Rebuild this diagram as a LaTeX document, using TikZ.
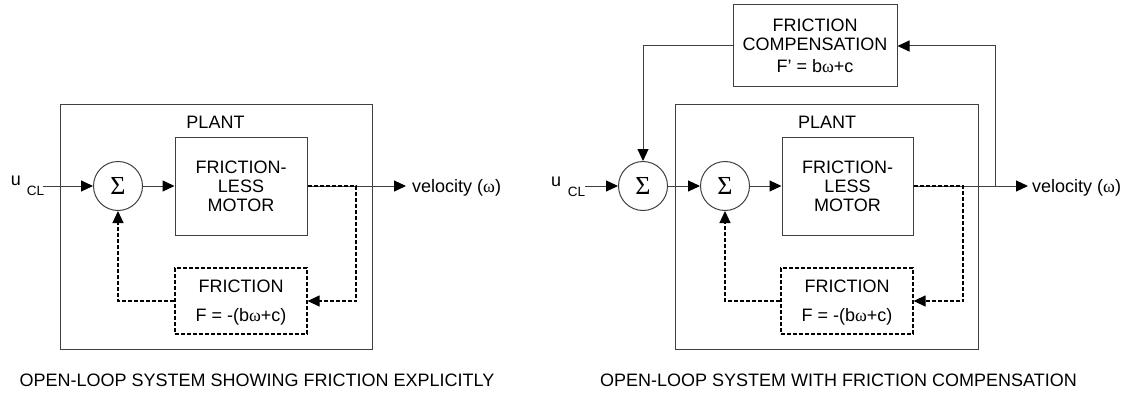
\documentclass[tikz,border=0pt]{standalone}
\usepackage{fontspec}
\setmainfont{Liberation Sans}
\newfontfamily\seriffont{Liberation Serif}
\usetikzlibrary{arrows.meta}
\definecolor{ln}{gray}{0.25}
\newcommand{\om}{{\seriffont ω}}
\newcommand{\sigsym}{{\seriffont Σ}}
\begin{document}
\begin{tikzpicture}[x=1pt,y=-1pt,
  font=\fontsize{18}{19}\selectfont,
  box/.style={draw=ln, line width=1pt, inner sep=0pt, align=center},
  dbox/.style={draw=black, line width=1.2pt, dash pattern=on 4pt off 2pt, inner sep=0pt, align=center, text depth=0pt},
  sumnode/.style={circle, draw=ln, line width=1pt, minimum size=49pt, inner sep=0pt, font=\fontsize{26}{26}\selectfont},
  arr/.style={draw=ln, line width=1pt, -{Triangle[length=12pt,width=11pt,color=black]}},
  darr/.style={draw=black, line width=1.2pt, dash pattern=on 4pt off 2pt, -{Triangle[length=12pt,width=11pt]}},
  lbl/.style={inner sep=0pt},
  sub/.style={inner sep=0pt, font=\fontsize{13.5}{14}\selectfont}]
\useasboundingbox (0,0) rectangle (1130,396);

% ---------- left diagram ----------
\node[box, minimum width=312pt, minimum height=245pt] (plantL) at (216,226.5) {};
\node[lbl] (plantLlbl) at (215.5,122) {PLANT};
\node[box, minimum width=132pt, minimum height=98pt] (motorL) at (241,186) {FRICTION-\\LESS\\MOTOR};
\node[dbox, minimum width=132pt, minimum height=66pt] (fricL) at (241,301) {FRICTION\\[10pt]F = -(b\om+c)};
\node[sumnode] (sumL) at (118,186) {\sigsym};
\node[lbl] (uL) at (16,180.5) {u};
\node[sub] (clL) at (35.5,190.5) {CL};
\coordinate (inL) at (43,186);
\coordinate (velL) at (406,186);
\coordinate (dcL) at (356,186);
\node[lbl, anchor=base west] (velLtxt) at (412,192.5) {velocity (\om)};

\draw[arr] (inL) -- (sumL);
\draw[arr] (sumL) -- (motorL);
\draw[arr] (motorL.east) -- (velL);
\draw[darr] (motorL.east) -- (dcL) |- (fricL.east);
\draw[darr] (fricL.west) -| (sumL.south);

\node[lbl] (capL) at (257,380) {OPEN-LOOP SYSTEM SHOWING FRICTION EXPLICITLY};

% ---------- right diagram ----------
\node[box, minimum width=164pt, minimum height=82pt] (comp) at (815,46) {FRICTION\\COMPENSATION\\[3pt]F' = b\om+c};
\node[box, minimum width=303pt, minimum height=245pt] (plantR) at (826.5,226.5) {};
\node[lbl] (plantRlbl) at (827,122) {PLANT};
\node[box, minimum width=131pt, minimum height=98pt] (motorR) at (847.5,186) {FRICTION-\\LESS\\MOTOR};
\node[dbox, minimum width=132pt, minimum height=66pt] (fricR) at (847,301) {FRICTION\\[10pt]F = -(b\om+c)};
\node[sumnode] (sumR1) at (643,186) {\sigsym};
\node[sumnode] (sumR2) at (725,186) {\sigsym};
\node[lbl] (uR) at (556,181.5) {u};
\node[sub] (clR) at (576.5,191.5) {CL};
\coordinate (inR) at (585,186);
\coordinate (velR) at (1028,186);
\coordinate (dcR) at (963,186);
\coordinate (brR) at (995,186);
\node[lbl, anchor=base west] (velRtxt) at (1032,192.5) {velocity (\om)};

\draw[arr] (inR) -- (sumR1);
\draw[arr] (sumR1) -- (sumR2);
\draw[arr] (sumR2) -- (motorR);
\draw[arr] (motorR.east) -- (velR);
\draw[arr] (brR) |- (comp.east);
\draw[arr] (comp.west) -| (sumR1.north);
\draw[darr] (motorR.east) -- (dcR) |- (fricR.east);
\draw[darr] (fricR.west) -| (sumR2.south);

\node[lbl] (capR) at (838.5,380) {OPEN-LOOP SYSTEM WITH FRICTION COMPENSATION};
\end{tikzpicture}
\end{document}
